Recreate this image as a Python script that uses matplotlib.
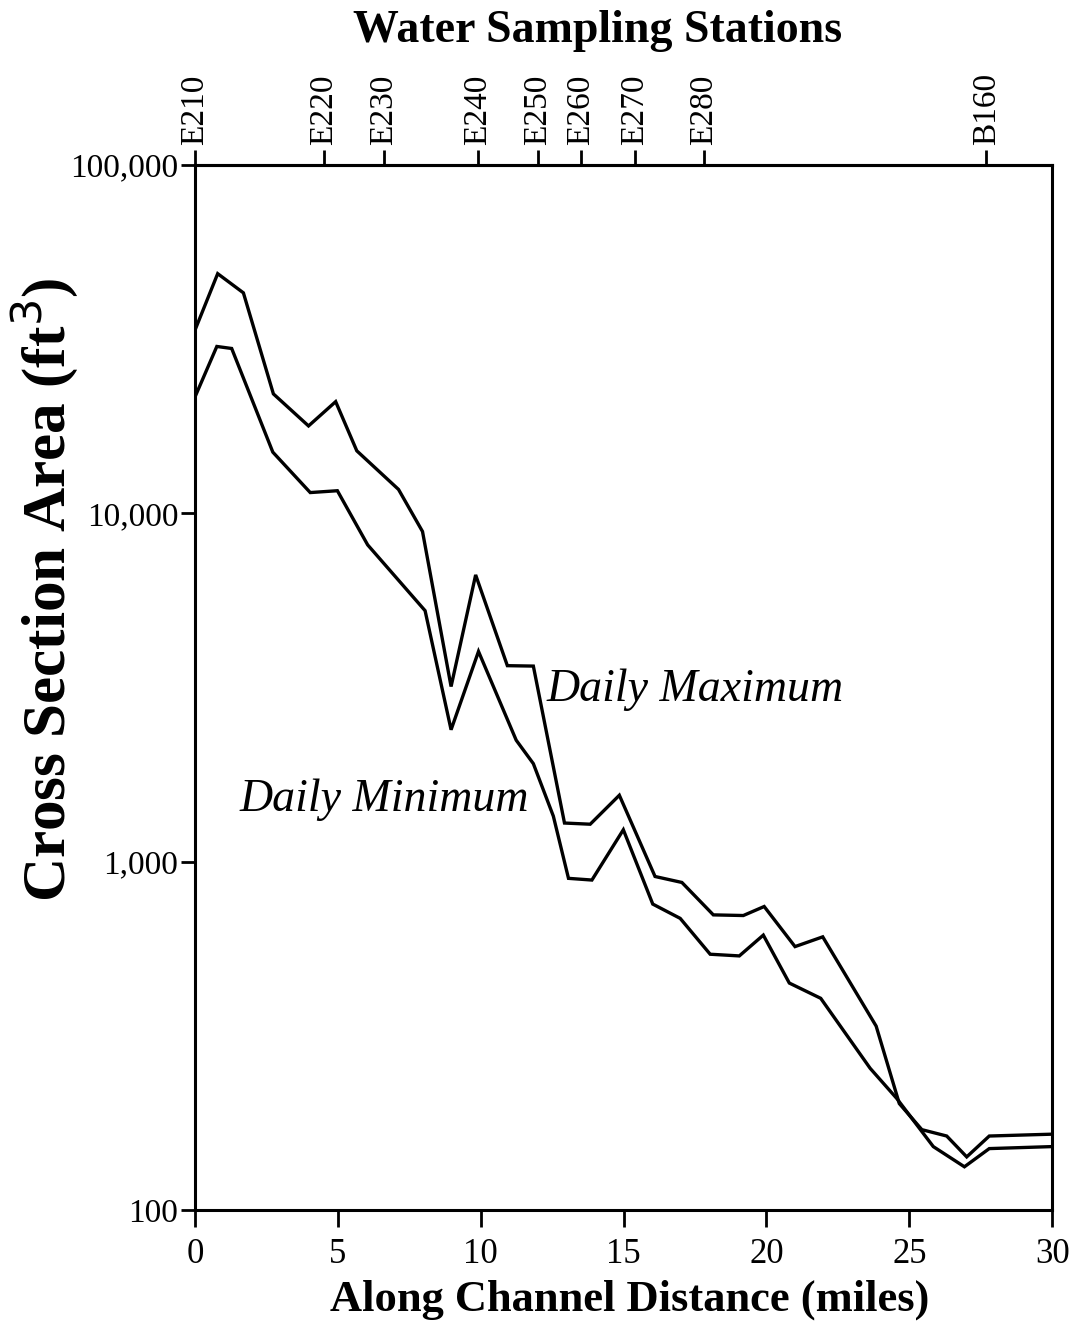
import matplotlib
matplotlib.use("Agg")
import matplotlib.pyplot as plt
from matplotlib.ticker import FixedLocator, NullLocator

# Daily maximum cross section area
max_miles = [0.0, 0.79, 1.69, 2.74, 3.97, 4.92, 5.66, 7.12, 7.96, 8.96, 9.82, 10.93, 11.84,
             12.93, 13.83, 14.85, 16.10, 17.04, 18.14, 19.19, 19.92, 21.00, 21.97, 23.84,
             24.65, 25.44, 26.31, 27.01, 27.80, 30.0]
max_area = [33600, 48700, 42900, 22000, 17800, 20900, 15100, 11700, 8860, 3180, 6650, 3650, 3640,
            1290, 1280, 1550, 906, 871, 703, 700, 743, 570, 608, 337,
            202, 170, 163, 142, 163, 165]

# Daily minimum cross section area
min_miles = [0.0, 0.76, 1.28, 2.72, 4.03, 4.98, 6.04, 8.05, 8.96, 9.92, 11.24, 11.84, 12.54,
             13.07, 13.89, 14.99, 16.02, 16.98, 18.03, 19.05, 19.89, 20.80, 21.90, 23.63,
             24.56, 25.84, 26.93, 27.80, 30.0]
min_area = [21600, 30100, 29700, 14970, 11460, 11600, 8110, 5250, 2390, 4010, 2230, 1910, 1350,
            895, 885, 1234, 755, 687, 542, 536, 615, 448, 405, 255,
            209, 152, 133, 150, 152]

# Water sampling stations (top axis)
station_names = ["E210", "E220", "E230", "E240", "E250", "E260", "E270", "E280", "B160"]
station_miles = [0.0, 4.5, 6.6, 9.9, 12.0, 13.5, 15.4, 17.8, 27.7]

x_ticks = [0, 5, 10, 15, 20, 25, 30]
y_ticks = [100, 1000, 10000, 100000]
y_tick_labels = ["100", "1,000", "10,000", "100,000"]

serif = ["Liberation Serif", "DejaVu Serif"]
plt.rcParams["font.family"] = serif

fig = plt.figure(figsize=(10.78, 13.28), dpi=100)
ax = fig.add_axes([0.181, 0.0889, 0.795, 0.787])

lw = 2.4
ax.plot(max_miles, max_area, color="black", lw=lw, solid_joinstyle="miter")
ax.plot(min_miles, min_area, color="black", lw=lw, solid_joinstyle="miter")

ax.set_yscale("log")
ax.set_xlim(0, 30)
ax.set_ylim(100, 100000)
ax.yaxis.set_major_locator(FixedLocator(y_ticks))
ax.yaxis.set_minor_locator(NullLocator())
ax.set_yticklabels(y_tick_labels)
ax.set_xticks(x_ticks)
ax.set_xticklabels([str(t) for t in x_ticks])

for s in ax.spines.values():
    s.set_linewidth(2.2)

ax.tick_params(axis="y", which="major", direction="out", length=10, width=2, labelsize=24, pad=2)
ax.tick_params(axis="x", which="major", direction="out", length=12, width=2, labelsize=25, pad=8)

sec = ax.secondary_xaxis("top")
sec.set_xticks(station_miles)
sec.set_xticklabels(station_names, rotation=90)
sec.tick_params(direction="out", length=11, width=2, labelsize=24, pad=3)
sec.spines["top"].set_linewidth(2.2)

ax.text(12.3, 3110, "Daily Maximum", fontsize=33, style="italic", va="center", ha="left")
ax.text(1.55, 1500, "Daily Minimum", fontsize=33, style="italic", va="center", ha="left")

fig.text(0.554, 0.977, "Water Sampling Stations", fontsize=33, fontweight="bold",
         ha="center", va="center")
fig.text(0.584, 0.021, "Along Channel Distance (miles)", fontsize=32, fontweight="bold",
         ha="center", va="center")
fig.text(0.041, 0.556, "Cross Section Area (ft$^3$)", fontsize=44, fontweight="bold",
         ha="center", va="center", rotation=90)

fig.savefig("out.png", dpi=100)
